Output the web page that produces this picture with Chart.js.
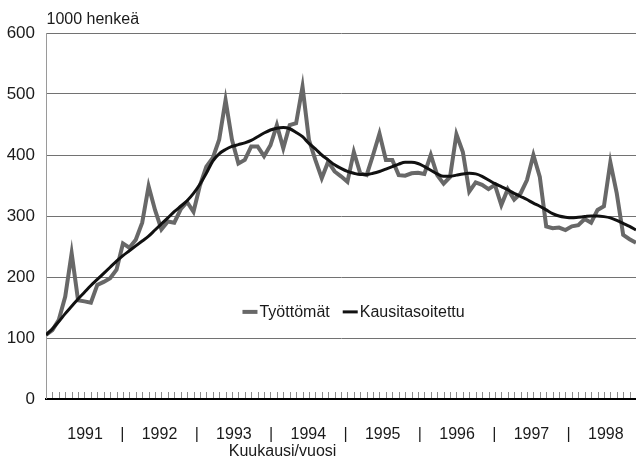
<!DOCTYPE html>
<html>
<head>
<meta charset="utf-8">
<script src="https://cdn.jsdelivr.net/npm/chart.js@4"></script>
<style>
html,body{margin:0;padding:0;background:#fff;}
#wrap{width:636px;height:456px;}
</style>
</head>
<body>
<div id="wrap"><canvas id="c" width="636" height="456"></canvas></div>
<script>
// ---- data ----
const years = ['1991','1992','1993','1994','1995','1996','1997','1998'];
const categories = [];
years.forEach(y => { for (let m = 1; m <= 12; m++) categories.push(m + '/' + y); });
categories.length = 93; // 1/1991 ... 9/1998

const seriesNames = ['Työttömät', 'Kausitasoitettu'];

const tyottomat = [
  105,113,130,168,239,162,160,158,187,192,198,212,
  255,248,261,289,349,310,278,291,289,311,323,307,
  350,381,395,425,490,425,386,392,414,414,398,416,
  449,411,449,452,512,425,392,362,389,373,365,356,
  405,370,367,400,435,392,392,367,366,370,371,369,
  400,367,353,364,434,405,340,355,351,344,351,318,
  344,327,337,359,400,364,283,280,281,277,283,285,
  295,289,310,316,388,337,269,262,256
];

const kausitasoitettu = [
  105,115,127,140,152,164,175,186,196,206,216,226,
  235,243,251,259,267,277,287,297,307,316,325,337,
  352,370,390,402,409,414,417,420,424,430,436,441,
  444,445,443,437,430,419,410,400,392,384,378,373,
  370,368,368,370,373,377,381,385,388,388,386,381,
  375,369,365,365,367,369,370,369,365,359,353,348,
  343,337,332,327,321,316,310,304,300,298,297,298,
  299,300,300,299,297,293,288,283,277
];

const yTicks = [0,100,200,300,400,500,600];
const xTickLabels = ['1991','|','1992','|','1993','|','1994','|','1995','|','1996','|','1997','|','1998'];
const yTitle = '1000 henkeä';
const xTitle = 'Kuukausi/vuosi';

// ---- chart ----
const FONT = '"Liberation Sans", Arial, sans-serif';

const decor = {
  id: 'decor',
  afterDraw(chart) {
    const {ctx, chartArea: a, scales: {x}} = chart;
    ctx.save();
    // monthly minor ticks inside plot, above baseline
    ctx.strokeStyle = '#8c8c8c';
    ctx.lineWidth = 1;
    ctx.beginPath();
    for (let i = 1; i < categories.length; i++) {
      const px = Math.round(x.getPixelForValue(i)) + 0.5;
      ctx.moveTo(px, a.bottom - 7);
      ctx.lineTo(px, a.bottom - 1);
    }
    ctx.stroke();

    ctx.fillStyle = '#1a1a1a';
    ctx.textBaseline = 'alphabetic';
    // axis unit title
    ctx.font = '16px ' + FONT;
    ctx.textAlign = 'left';
    ctx.fillText(yTitle, a.left + 0.5, 23.5);
    // x axis title
    ctx.font = '16px ' + FONT;
    ctx.textAlign = 'center';
    ctx.fillText(xTitle, a.left + a.width * 0.401, 456);

    // legend inside plot
    ctx.font = '16px ' + FONT;
    ctx.textAlign = 'left';
    ctx.textBaseline = 'middle';
    let lx = a.left + a.width * 0.333;
    const ly = a.top + a.height * 0.762;
    chart.data.datasets.forEach(ds => {
      ctx.strokeStyle = ds.borderColor;
      ctx.lineWidth = ds.borderWidth;
      ctx.beginPath();
      ctx.moveTo(lx, ly);
      ctx.lineTo(lx + 15, ly);
      ctx.stroke();
      ctx.fillText(ds.label, lx + 17, ly + 1);
      lx += 17 + ctx.measureText(ds.label).width + 13;
    });
    ctx.restore();
  }
};

new Chart(document.getElementById('c'), {
  type: 'line',
  data: {
    datasets: [
      {
        label: seriesNames[0],
        data: tyottomat.map((v, i) => ({x: i, y: v})),
        borderColor: '#686868',
        borderWidth: 4,
        pointRadius: 0,
        tension: 0,
        order: 2
      },
      {
        label: seriesNames[1],
        data: kausitasoitettu.map((v, i) => ({x: i, y: v})),
        borderColor: '#111111',
        borderWidth: 3,
        pointRadius: 0,
        cubicInterpolationMode: 'monotone',
        order: 1
      }
    ]
  },
  options: {
    responsive: false,
    animation: false,
    devicePixelRatio: 1,
    layout: {padding: {top: 33, right: 0, left: 0, bottom: 0}},
    plugins: {legend: {display: false}, tooltip: {enabled: false}},
    scales: {
      x: {
        type: 'linear',
        min: 0,
        max: categories.length - 1,
        grid: {display: false, drawTicks: false},
        border: {display: true, color: '#000', width: 2},
        afterBuildTicks(scale) {
          scale.ticks = xTickLabels.map((t, j) => ({value: 6.1 + 5.8 * j}));
        },
        afterFit(scale) {
          scale.height = 57;
          scale.paddingLeft = 0;
          scale.paddingRight = 0;
        },
        ticks: {
          autoSkip: false,
          maxRotation: 0,
          padding: 26,
          color: '#1a1a1a',
          font: {family: FONT, size: 16},
          callback: (v, i) => xTickLabels[i]
        }
      },
      y: {
        min: yTicks[0],
        max: yTicks[yTicks.length - 1],
        afterBuildTicks(scale) { scale.ticks = yTicks.map(v => ({value: v})); },
        afterFit(scale) { scale.width = 46; },
        grid: {
          color: '#727272',
          lineWidth: c => (c.tick && c.tick.value === 0 ? 0 : 1),
          drawTicks: false
        },
        border: {display: true, color: '#9a9a9a', width: 1},
        ticks: {
          padding: 11,
          color: '#1a1a1a',
          font: {family: FONT, size: 17}
        }
      }
    }
  },
  plugins: [decor]
});
</script>
</body>
</html>
